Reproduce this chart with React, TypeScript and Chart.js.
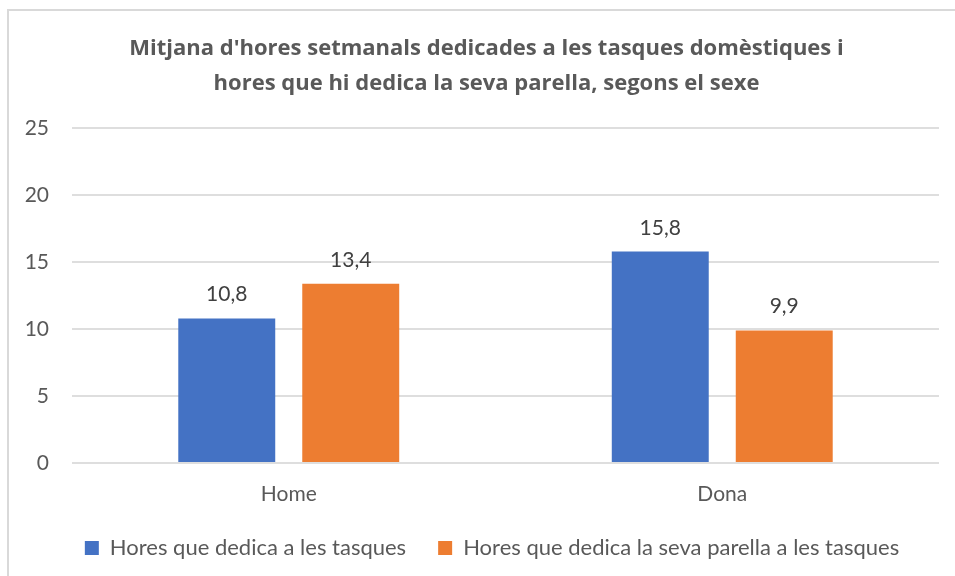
import React, { useEffect, useRef } from "react";
import { Chart, registerables } from "chart.js";

Chart.register(...registerables);

const categories = ["Home", "Dona"];
const seriesNames = [
  "Hores que dedica a les tasques",
  "Hores que dedica la seva parella a les tasques",
];
const ownHours = [10.8, 15.8];
const partnerHours = [13.4, 9.9];
const titleLines = [
  "Mitjana d'hores setmanals dedicades a les tasques domèstiques i",
  "hores que hi dedica la seva parella, segons el sexe",
];
const yTicks = [0, 5, 10, 15, 20, 25];

const FONT = "Lato, 'Open Sans', sans-serif";
const TITLE_FONT = "'Open Sans', Lato, sans-serif";
const fmt = (v: number) => v.toFixed(1).replace(".", ",");

const framePlugin = {
  id: "frame",
  afterLayout(chart: any) {
    if (chart.titleBlock) chart.titleBlock.left += 24;
    if (chart.legend) chart.legend.left += 35;
  },
  beforeDraw(chart: any) {
    const ctx = chart.ctx;
    ctx.save();
    ctx.fillStyle = "#ffffff";
    ctx.fillRect(0, 0, chart.width, chart.height);
    ctx.strokeStyle = "#d9d9d9";
    ctx.lineWidth = 2;
    ctx.strokeRect(8, 10, chart.width + 40, chart.height + 40);
    ctx.restore();
  },
};

const labelPlugin = {
  id: "valueLabels",
  afterDatasetsDraw(chart: any) {
    const ctx = chart.ctx;
    ctx.save();
    ctx.font = `21px ${FONT}`;
    ctx.fillStyle = "#404040";
    ctx.textAlign = "center";
    ctx.textBaseline = "alphabetic";
    chart.data.datasets.forEach((ds: any, di: number) => {
      const meta = chart.getDatasetMeta(di);
      meta.data.forEach((el: any, i: number) => {
        ctx.fillText(fmt(ds.data[i]), el.x, el.y - 17);
      });
    });
    ctx.restore();
  },
};

export default function App() {
  const ref = useRef<HTMLCanvasElement>(null);
  useEffect(() => {
    if (!ref.current) return;
    const chart = new Chart(ref.current, {
      type: "bar",
      data: {
        labels: categories,
        datasets: [
          {
            label: seriesNames[0],
            data: ownHours,
            backgroundColor: "#4472C4",
            categoryPercentage: 0.572,
            barPercentage: 0.782,
          },
          {
            label: seriesNames[1],
            data: partnerHours,
            backgroundColor: "#ED7D31",
            categoryPercentage: 0.572,
            barPercentage: 0.782,
          },
        ],
      },
      options: {
        responsive: false,
        animation: false,
        layout: { padding: { left: 10, right: 16, top: 10, bottom: 7 } },
        plugins: {
          title: {
            display: true,
            text: titleLines,
            color: "#595959",
            font: { family: TITLE_FONT, size: 22, weight: "bold", lineHeight: 1.6 },
            padding: { top: 21, bottom: 27 },
          },
          legend: {
            position: "bottom",
            labels: {
              color: "#595959",
              font: { family: FONT, size: 22 },
              boxWidth: 14,
              boxHeight: 14,
              padding: 32,
            },
          },
          tooltip: { enabled: false },
        },
        scales: {
          x: {
            afterFit: (scale: any) => {
              scale.height = 42;
            },
            grid: { display: false, drawTicks: false },
            border: { display: false },
            ticks: {
              color: "#595959",
              font: { family: FONT, size: 21 },
              padding: 19,
            },
          },
          y: {
            min: 0,
            max: 25,
            afterFit: (scale: any) => {
              scale.width = 62;
            },
            afterBuildTicks: (scale: any) => {
              scale.ticks = yTicks.map((v) => ({ value: v }));
            },
            grid: { color: "#dedede", lineWidth: 2, drawTicks: false },
            border: { display: false },
            ticks: {
              color: "#595959",
              font: { family: FONT, size: 21 },
              padding: 23,
            },
          },
        },
      },
      plugins: [framePlugin, labelPlugin],
    });
    return () => chart.destroy();
  }, []);
  return (
    <div style={{ position: "absolute", left: 0, top: 0, width: 955, height: 576 }}>
      <canvas ref={ref} width={955} height={576} />
    </div>
  );
}
